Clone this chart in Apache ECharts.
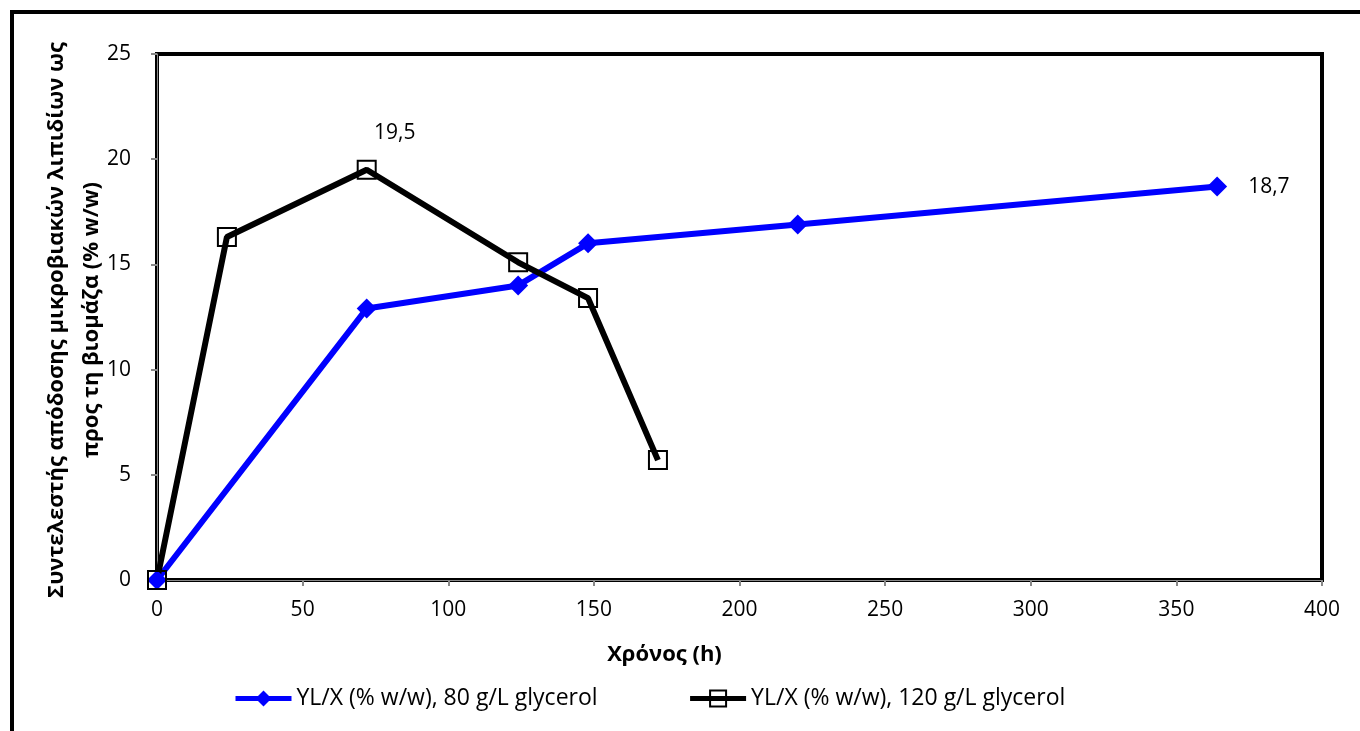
<!DOCTYPE html>
<html>
<head>
    <meta charset="UTF-8" />
    <title>YL/X lipid yield vs time</title>
    <script src="https://cdn.jsdelivr.net/npm/echarts@6/dist/echarts.min.js"></script>
    <style>
        html, body { margin: 0; padding: 0; background: #fff; }
        #main { width: 1360px; height: 731px; }
    </style>
</head>
<body>
<div id="main"></div>
<script>
var chartDom = document.getElementById('main');
var myChart = echarts.init(chartDom);

/* 80 g/L glycerol (blue diamonds) */
var time80 = [0, 72, 124, 148, 220, 364];
var yield80 = [0, 12.9, 14.0, 16.0, 16.9, 18.7];

/* 120 g/L glycerol (black open squares) */
var time120 = [0, 24, 72, 124, 148, 172];
var yield120 = [0, 16.3, 19.5, 15.1, 13.4, 5.7];

var seriesNames = ['YL/X (% w/w), 80 g/L glycerol', 'YL/X (% w/w), 120 g/L glycerol'];
var yTitle = 'Συντελεστής απόδοσης μικροβιακών λιπιδίων ως\nπρος τη βιομάζα (% w/w)';

var FONT = 'Open Sans';
var FS = 21;     // ticks and data labels
var FS_BIG = 22; // axis titles
var FS_LEG = 23; // legend

function pairs(xs, ys) {
    return xs.map(function (x, i) { return [x, ys[i]]; });
}

// only the max point of each series gets a value label (comma decimal)
function labelled(xs, ys, idx, pos, offset) {
    return pairs(xs, ys).map(function (p, i) {
        if (i !== idx) return p;
        return {
            value: p,
            label: {
                show: true, position: pos, offset: offset,
                fontFamily: FONT, fontSize: FS, color: '#000',
                formatter: function (o) { return String(o.value[1]).replace('.', ','); }
            }
        };
    });
}

var option = {
    backgroundColor: '#fff',
    animation: false,
    textStyle: { fontFamily: FONT },
    graphic: [
        {
            // outer frame (only left and top visible inside the picture)
            type: 'rect',
            shape: { x: 12, y: 12, width: 1500, height: 900 },
            style: { fill: 'none', stroke: '#000', lineWidth: 4 },
            silent: true
        },
        {
            // y axis title, drawn by hand so it can sit where the original has it
            type: 'text',
            x: 74, y: 320,
            rotation: Math.PI / 2,
            style: {
                text: yTitle,
                fontFamily: FONT, fontSize: FS_BIG, fontWeight: 'bold',
                fill: '#000', lineHeight: 35,
                align: 'center', verticalAlign: 'middle'
            },
            silent: true
        }
    ],
    grid: {
        left: 157, right: 38, top: 54, bottom: 151,
        show: true, borderColor: '#000', borderWidth: 4,
        backgroundColor: '#fff'
    },
    xAxis: {
        type: 'value', min: 0, max: 400, interval: 50,
        name: 'Χρόνος (h)', nameLocation: 'middle', nameGap: 64,
        nameTextStyle: {
            fontFamily: FONT, fontSize: FS_BIG, fontWeight: 'bold', color: '#000',
            padding: [0, 150, 0, 0]  // title sits left of the plot centre
        },
        axisLine: { show: true, lineStyle: { color: '#888', width: 1 } },
        axisTick: { show: true, length: 6, lineStyle: { color: '#888', width: 2 } },
        axisLabel: { fontFamily: FONT, fontSize: FS, color: '#000', margin: 20 },
        splitLine: { show: false }
    },
    yAxis: {
        type: 'value', min: 0, max: 25, interval: 5,
        axisLine: { show: true, lineStyle: { color: '#888', width: 1 } },
        axisTick: { show: true, length: 6, lineStyle: { color: '#888', width: 2 } },
        axisLabel: { fontFamily: FONT, fontSize: FS, color: '#000', margin: 26 },
        splitLine: { show: false }
    },
    legend: {
        bottom: 16, left: 228, itemGap: 90,
        itemWidth: 56, itemHeight: 20,
        lineStyle: { width: 5 },
        textStyle: { fontFamily: FONT, fontSize: FS_LEG, color: '#000' },
        data: seriesNames
    },
    series: [
        {
            name: seriesNames[0],
            type: 'line',
            data: labelled(time80, yield80, 5, 'right', [16, 0]),
            symbol: 'diamond', symbolSize: 20,
            lineStyle: { color: '#0000ff', width: 6 },
            itemStyle: { color: '#0000ff' }
        },
        {
            name: seriesNames[1],
            type: 'line',
            data: labelled(time120, yield120, 2, 'top', [28, -11]),
            symbol: 'rect', symbolSize: 18,
            lineStyle: { color: '#000', width: 6 },
            itemStyle: { color: 'rgba(255,255,255,0)', borderColor: '#000', borderWidth: 2 }
        }
    ]
};

myChart.setOption(option);
</script>
</body>
</html>
